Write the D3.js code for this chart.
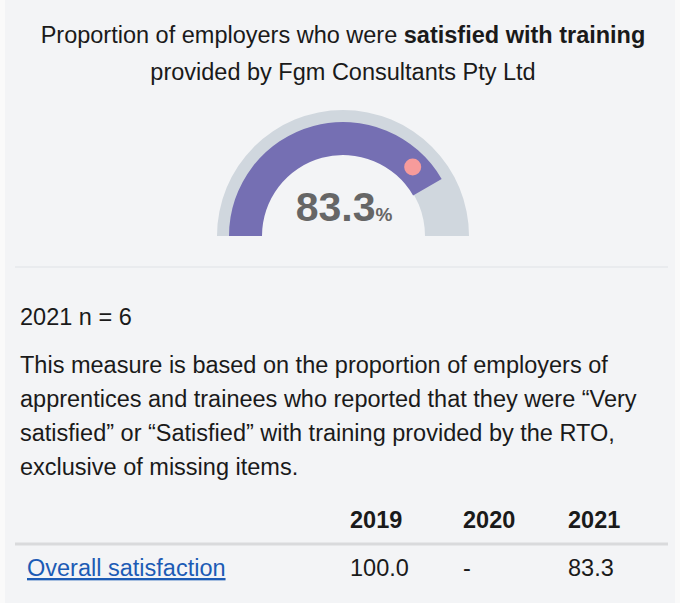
<!DOCTYPE html>
<html>
<head>
<meta charset="utf-8">
<script src="https://cdn.jsdelivr.net/npm/d3@7"></script>
<style>
  body { margin: 0; background: #fafafa; font-family: "Liberation Sans", Arial, sans-serif; }
  svg { display: block; }
</style>
</head>
<body>
<svg id="chart" width="680" height="603"></svg>
<script>
// Gauge value
var gaugeValue = 83.3;
var gaugeUnit = "%";

// Table data
var years = ["2019", "2020", "2021"];
var rowLabels = ["Overall satisfaction"];
var rowValues = [["100.0", "-", "83.3"]];

var titleLines = [
    [{ t: "Proportion of employers who were ", b: false }, { t: "satisfied with training", b: true }],
    [{ t: "provided by Fgm Consultants Pty Ltd", b: false }]
];
var sampleText = "2021 n = 6";
var noteLines = [
    "This measure is based on the proportion of employers of",
    "apprentices and trainees who reported that they were \u201cVery",
    "satisfied\u201d or \u201cSatisfied\u201d with training provided by the RTO,",
    "exclusive of missing items."
];

var svg = d3.select("#chart");
var W = 680, H = 603, FS = 23.5;

// panel background
svg.append("rect").attr("x", 5).attr("y", 0).attr("width", W - 10).attr("height", H)
    .attr("fill", "#f3f4f6");

// title
var title = svg.append("text").attr("x", W / 2 + 3).attr("text-anchor", "middle")
    .attr("font-size", FS).attr("fill", "#1a1a1a");
titleLines.forEach(function (line, i) {
    line.forEach(function (seg, j) {
        var ts = title.append("tspan").text(seg.t).attr("font-weight", seg.b ? "bold" : "normal");
        if (j === 0) ts.attr("x", W / 2 + 3).attr("y", 43 + i * 37);
    });
});

// gauge
var cx = 343, cy = 236;
var angle = d3.scaleLinear().domain([0, 100]).range([-Math.PI / 2, Math.PI / 2]);
var g = svg.append("g").attr("transform", "translate(" + cx + "," + cy + ")");

g.append("path")
    .attr("d", d3.arc().innerRadius(82).outerRadius(126).startAngle(angle(0)).endAngle(angle(100)))
    .attr("fill", "#d0d7de");
g.append("path")
    .attr("d", d3.arc().innerRadius(81).outerRadius(114).startAngle(angle(0)).endAngle(angle(gaugeValue)))
    .attr("fill", "#756fb3");

// marker dot a little behind the arc end
var dotA = angle(gaugeValue) - 0.255, dotR = 98;
g.append("circle")
    .attr("cx", dotR * Math.sin(dotA))
    .attr("cy", -dotR * Math.cos(dotA))
    .attr("r", 8.5)
    .attr("fill", "#f79b9b");

var val = g.append("text").attr("text-anchor", "middle").attr("x", 1).attr("y", -15).attr("fill", "#666")
    .attr("font-weight", "bold");
val.append("tspan").attr("font-size", 41).text(gaugeValue.toFixed(1));
val.append("tspan").attr("font-size", 19).text(gaugeUnit);

// separator
svg.append("line").attr("x1", 15).attr("x2", 668).attr("y1", 267).attr("y2", 267)
    .attr("stroke", "#e6e8eb").attr("stroke-width", 1.5);

svg.append("text").attr("x", 20).attr("y", 325).attr("font-size", FS).attr("fill", "#1a1a1a")
    .text(sampleText);

svg.append("g").selectAll("text").data(noteLines).join("text")
    .attr("x", 20).attr("y", function (d, i) { return 373 + i * 34; })
    .attr("font-size", FS).attr("fill", "#1a1a1a")
    .text(function (d) { return d; });

// table
var col = d3.scaleOrdinal().domain(years).range([350, 463, 568]);
svg.append("g").selectAll("text").data(years).join("text")
    .attr("x", function (d) { return col(d); }).attr("y", 528)
    .attr("font-size", FS).attr("font-weight", "bold").attr("fill", "#1a1a1a")
    .text(function (d) { return d; });

svg.append("line").attr("x1", 15).attr("x2", 668).attr("y1", 544).attr("y2", 544)
    .attr("stroke", "#d9dadc").attr("stroke-width", 3);

rowLabels.forEach(function (lab, r) {
    var y = 576 + r * 40;
    svg.append("text").attr("x", 27).attr("y", y).attr("font-size", FS)
        .attr("fill", "#1c5bb5").attr("text-decoration", "underline").text(lab);
    years.forEach(function (yr, c) {
        svg.append("text").attr("x", col(yr)).attr("y", y).attr("font-size", FS)
            .attr("fill", "#1a1a1a").text(rowValues[r][c]);
    });
});
</script>
</body>
</html>
